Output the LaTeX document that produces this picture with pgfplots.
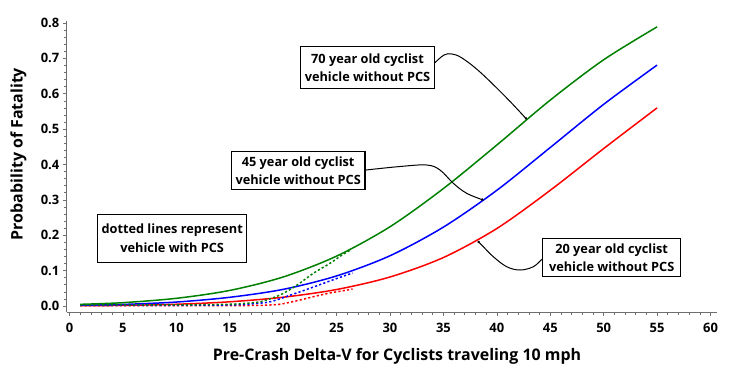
\documentclass[border=0pt]{standalone}
\usepackage{pgfplots}
\pgfplotsset{compat=1.18}
\usepackage{fontspec}
\setmainfont{Open Sans}
\usetikzlibrary{arrows.meta}
\definecolor{cgreen}{RGB}{0,128,0}
\definecolor{cblue}{RGB}{0,0,255}
\definecolor{cred}{RGB}{255,0,0}
\definecolor{axgray}{RGB}{110,110,110}

\begin{document}
\begin{tikzpicture}
\begin{scope}[x=1bp,y=-1bp]
\useasboundingbox (0,0) rectangle (730,377);
\end{scope}
\begin{axis}[
  at={(66.8bp,-312bp)}, anchor=south west,
  scale only axis, width=650.1bp, height=290.8bp,
  xmin=-0.25, xmax=60.6, ymin=-0.017, ymax=0.805,
  axis lines=left,
  axis line style={-, draw=axgray, line width=0.8bp},
  xtick={0,5,10,15,20,25,30,35,40,45,50,55,60},
  ytick={0,0.1,0.2,0.3,0.4,0.5,0.6,0.7,0.8},
  minor x tick num=4, minor y tick num=4,
  tick align=outside,
  major tick length=4bp, minor tick length=2.5bp,
  every tick/.style={draw=axgray, line width=0.6bp},
  scaled y ticks=false,
  /pgf/number format/assume math mode=true,
  yticklabel style={/pgf/number format/fixed, /pgf/number format/fixed zerofill, /pgf/number format/precision=1},
  ticklabel style={font=\fontsize{13}{13}\selectfont\bfseries},
  xticklabel style={yshift=-4bp},
  clip=false,
]
% solid: vehicle without PCS
\addplot[cred, line width=1.5bp, smooth] coordinates {
(1,0.0008)(5,0.0018)(10,0.0049)(15,0.0119)(20,0.0248)(25,0.0466)(30,0.082)(35,0.137)(40,0.219)(45,0.327)(50,0.445)(55,0.560)};
\addplot[cblue, line width=1.5bp, smooth] coordinates {
(1,0.0021)(5,0.0044)(10,0.0112)(15,0.0246)(20,0.047)(25,0.085)(30,0.142)(35,0.223)(40,0.327)(45,0.448)(50,0.570)(55,0.681)};
\addplot[cgreen, line width=1.5bp, smooth] coordinates {
(1,0.0047)(5,0.0094)(10,0.0217)(15,0.044)(20,0.082)(25,0.141)(30,0.224)(35,0.332)(40,0.455)(45,0.582)(50,0.696)(55,0.789)};
% dotted: vehicle with PCS
\addplot[cred, line width=1.5bp, dash pattern=on 2.2bp off 2.2bp, smooth] coordinates {
(1,0.001)(10,0.001)(15,0.001)(18,0.002)(19.7,0.005)(21.3,0.015)(22.8,0.026)(24.4,0.037)(25.6,0.043)(26.5,0.048)};
\addplot[cblue, line width=1.5bp, dash pattern=on 2.2bp off 2.2bp, smooth] coordinates {
(1,0.002)(10,0.002)(15,0.003)(17,0.006)(18.8,0.012)(20.7,0.031)(22.5,0.050)(24.4,0.071)(25.6,0.084)(26.5,0.093)};
\addplot[cgreen, line width=1.5bp, dash pattern=on 2.2bp off 2.2bp, smooth] coordinates {
(1,0.003)(5,0.003)(10,0.003)(15,0.005)(17,0.009)(18,0.013)(19.7,0.031)(21.3,0.059)(22.8,0.092)(24.4,0.121)(25.6,0.146)(26.3,0.158)};
\end{axis}
\begin{scope}[x=1bp,y=-1bp]
\node[rotate=90, font=\fontsize{16}{16}\selectfont\bfseries] at (18.5,154) {Probability of Fatality};
\node[font=\fontsize{16}{16}\selectfont\bfseries] at (397,356) {Pre-Crash Delta-V for Cyclists traveling 10 mph};
\tikzset{box/.style={draw=black, line width=1.3bp, fill=white, align=center, inner sep=0pt, font=\fontsize{12.8}{18.5}\selectfont\bfseries}}
\node[box, minimum width=133.6bp, minimum height=41.6bp] at (367.5,67.5) {70 year old cyclist\\vehicle without PCS};
\node[box, minimum width=133.6bp, minimum height=37.6bp] at (298.2,170.5) {45 year old cyclist\\vehicle without PCS};
\node[box, minimum width=138bp, minimum height=38.4bp] at (611.7,257.5) {20 year old cyclist\\vehicle without PCS};
\node[box, minimum width=149bp, minimum height=48bp] at (172.2,238.3) {dotted lines represent\\vehicle with PCS};
\draw[line width=1bp, -{Circle[length=2.5bp]}] plot[smooth, tension=0.6] coordinates {(434.3,63.3)(444,55)(452,54)(462,58)(480,72)(506.7,98)(526.7,119.3)};
\draw[line width=1bp, -{Circle[length=2.5bp]}] plot[smooth, tension=0.6] coordinates {(366,170)(400,166.5)(426.7,165)(440,170)(453.3,183.3)(466.7,193.3)(483.3,200)};
\draw[line width=1bp, -{Circle[length=2.5bp]}] plot[smooth, tension=0.6] coordinates {(541.7,259.3)(533.3,266.7)(520,270)(506.7,266.7)(493.3,256.7)(483.3,246.7)(477.7,241)};
\end{scope}
\end{tikzpicture}
\end{document}
